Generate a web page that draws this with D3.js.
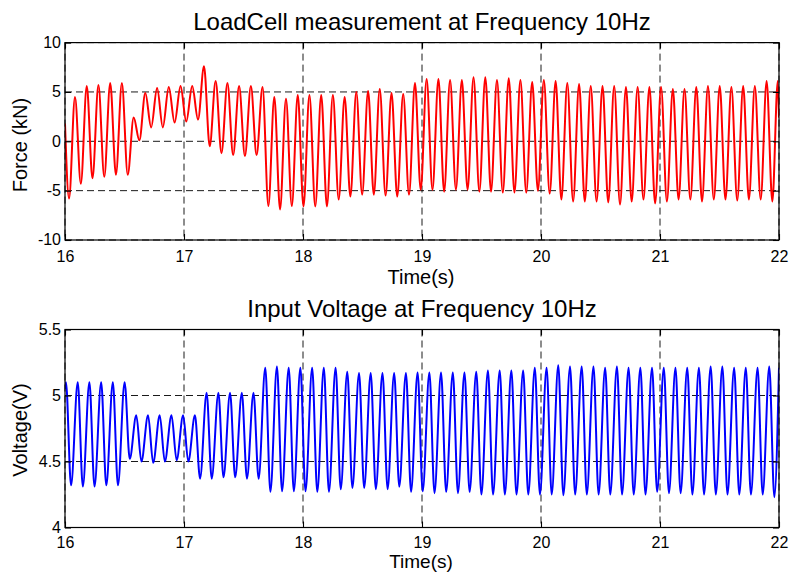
<!DOCTYPE html>
<html><head><meta charset="utf-8">
<script src="https://cdn.jsdelivr.net/npm/d3@7"></script>
<style>
body{margin:0;background:#fff}
svg{display:block}
text{font-family:"Liberation Sans",Arial,Helvetica,sans-serif;fill:#000}
</style>
</head><body>
<svg id="chart" width="790" height="572"></svg>
<script>
// ---------- data ----------
const timeTicks = [16, 17, 18, 19, 20, 21, 22];
const forceTicks = [-10, -5, 0, 5, 10];
const voltTicks = [4, 4.5, 5, 5.5];

const forceTitle = "LoadCell measurement at Frequency 10Hz";
const voltTitle = "Input Voltage at Frequency 10Hz";

// LoadCell force (kN): trough and peak of every cycle
const forceTroughTimes = [16.034,16.133,16.231,16.330,16.428,16.527,16.625,16.724,16.822,16.921,17.019,17.118,17.216,17.315,17.413,17.512,17.610,17.709,17.807,17.906,18.004,18.103,18.201,18.300,18.398,18.497,18.595,18.694,18.792,18.891,18.989,19.088,19.186,19.285,19.383,19.482,19.580,19.679,19.777,19.876,19.974,20.073,20.171,20.270,20.368,20.467,20.565,20.664,20.762,20.861,20.959,21.058,21.156,21.255,21.353,21.452,21.550,21.649,21.747,21.846,21.944];
const forceTroughs = [-5.8,-4.3,-3.75,-3.6,-3.4,-3.4,0.1,1.4,1.4,1.9,2.0,2.2,-0.5,-1.2,-1.4,-1.5,-1.4,-6.55,-6.9,-6.55,-6.6,-6.6,-6.6,-5.9,-5.6,-5.4,-5.4,-5.5,-5.6,-5.4,-4.9,-4.9,-5.1,-4.9,-4.9,-5.1,-5.1,-5.2,-5.2,-5.2,-5.0,-5.3,-5.9,-6.1,-6.1,-6.1,-6.2,-6.4,-6.1,-5.9,-6.3,-6.1,-5.9,-5.9,-6.1,-5.9,-5.9,-6.0,-5.9,-5.9,-6.1];
const forcePeakTimes = [16.084,16.183,16.281,16.380,16.478,16.577,16.675,16.774,16.872,16.971,17.069,17.168,17.266,17.365,17.463,17.562,17.660,17.759,17.857,17.956,18.054,18.153,18.251,18.350,18.448,18.547,18.645,18.744,18.842,18.941,19.039,19.138,19.236,19.335,19.433,19.532,19.630,19.729,19.827,19.926,20.024,20.123,20.221,20.320,20.418,20.517,20.615,20.714,20.812,20.911,21.009,21.108,21.206,21.305,21.403,21.502,21.600,21.699,21.797,21.896,21.990];
const forcePeaks = [4.5,5.6,5.7,5.9,5.9,2.4,4.9,5.4,5.5,5.6,5.6,7.6,6.1,5.9,5.6,5.6,5.5,4.5,4.3,4.7,4.7,4.7,4.7,4.5,5.0,5.1,5.3,4.9,4.8,5.9,6.3,6.3,6.2,6.2,6.5,6.5,6.2,6.4,6.2,6.0,6.2,6.1,5.9,5.8,5.6,5.6,5.6,5.5,5.5,5.5,5.5,5.3,5.3,5.5,5.6,5.6,5.5,5.6,5.6,6.1,6.1];
const forceEnds = [[16.0, 1.8], [22.0, 2.4]];

// Input voltage (V): peak and trough of every cycle
const voltPeakTimes = [16.008,16.107,16.205,16.304,16.402,16.501,16.599,16.698,16.796,16.895,16.993,17.092,17.190,17.289,17.387,17.486,17.584,17.683,17.781,17.880,17.978,18.077,18.175,18.274,18.372,18.471,18.569,18.668,18.766,18.865,18.963,19.062,19.160,19.259,19.357,19.456,19.554,19.653,19.751,19.850,19.948,20.047,20.145,20.244,20.342,20.441,20.539,20.638,20.736,20.835,20.933,21.032,21.130,21.229,21.327,21.426,21.524,21.623,21.721,21.820,21.918];
const voltPeaks = [5.10,5.10,5.10,5.10,5.10,5.10,4.85,4.85,4.85,4.85,4.85,4.85,5.02,5.02,5.02,5.02,5.02,5.21,5.22,5.21,5.21,5.21,5.21,5.21,5.18,5.17,5.17,5.17,5.17,5.17,5.175,5.175,5.175,5.175,5.175,5.18,5.19,5.19,5.19,5.19,5.21,5.21,5.23,5.22,5.22,5.22,5.21,5.22,5.21,5.21,5.21,5.21,5.21,5.21,5.21,5.22,5.22,5.21,5.21,5.21,5.22];
const voltTroughTimes = [16.051,16.150,16.248,16.347,16.445,16.544,16.642,16.741,16.839,16.938,17.036,17.135,17.233,17.332,17.430,17.529,17.627,17.726,17.824,17.923,18.021,18.120,18.218,18.317,18.415,18.514,18.612,18.711,18.809,18.908,19.006,19.105,19.203,19.302,19.400,19.499,19.597,19.696,19.794,19.893,19.991,20.090,20.188,20.287,20.385,20.484,20.582,20.681,20.779,20.878,20.976,21.075,21.173,21.272,21.370,21.469,21.567,21.666,21.764,21.863,21.961];
const voltTroughs = [4.32,4.31,4.31,4.32,4.32,4.52,4.50,4.49,4.50,4.51,4.50,4.37,4.37,4.38,4.38,4.37,4.37,4.27,4.275,4.275,4.275,4.27,4.27,4.29,4.30,4.30,4.29,4.29,4.31,4.27,4.275,4.26,4.27,4.26,4.27,4.25,4.25,4.25,4.25,4.25,4.25,4.25,4.245,4.25,4.25,4.25,4.25,4.25,4.25,4.25,4.27,4.26,4.26,4.25,4.25,4.25,4.25,4.25,4.25,4.25,4.23];
const voltEnds = [[16.0, 5.05], [22.0, 5.21]];

// ---------- drawing ----------
const svg = d3.select("#chart");
const X0 = 65, X1 = 779;
const plainNum = d => String(d);

function series(tT, tV, pT, pV, ends) {
  const pts = [ends[0]];
  tT.forEach((t, i) => pts.push([t, tV[i]]));
  pT.forEach((t, i) => pts.push([t, pV[i]]));
  pts.push(ends[1]);
  return pts.sort((a, b) => a[0] - b[0]);
}

function panel(cfg, idx) {
  const x = d3.scaleLinear().domain([16, 22]).range([X0, X1]);
  const y = d3.scaleLinear().domain(cfg.domain).range([cfg.bottom, cfg.top]);
  const g = svg.append("g");

  // grid
  g.append("g").selectAll("line").data(timeTicks).join("line")
    .attr("x1", d => x(d)).attr("x2", d => x(d))
    .attr("y1", cfg.top).attr("y2", cfg.bottom)
    .attr("stroke", "#000").attr("stroke-width", 0.9).attr("stroke-dasharray", "7,4");
  g.append("g").selectAll("line").data(cfg.ticks).join("line")
    .attr("x1", X0).attr("x2", X1)
    .attr("y1", d => y(d)).attr("y2", d => y(d))
    .attr("stroke", "#000").attr("stroke-width", 0.9).attr("stroke-dasharray", "7,4");

  // data line
  const cid = "clip" + idx;
  svg.append("clipPath").attr("id", cid).append("rect")
    .attr("x", X0).attr("y", cfg.top).attr("width", X1 - X0).attr("height", cfg.bottom - cfg.top);
  const line = d3.line().x(d => x(d[0])).y(d => y(d[1])).curve(d3.curveMonotoneX);
  g.append("path").datum(cfg.data).attr("clip-path", `url(#${cid})`)
    .attr("d", line).attr("fill", "none").attr("stroke", cfg.color)
    .attr("stroke-width", 2).attr("stroke-linejoin", "round");

  // box
  g.append("rect").attr("x", X0).attr("y", cfg.top)
    .attr("width", X1 - X0).attr("height", cfg.bottom - cfg.top)
    .attr("fill", "none").attr("stroke", "#000").attr("stroke-width", 1.2);

  // axes (inward ticks on all sides)
  const tl = 6;
  g.append("g").attr("transform", `translate(0,${cfg.bottom})`)
    .call(d3.axisBottom(x).tickValues(timeTicks).tickSize(-tl).tickPadding(cfg.xPad).tickFormat(plainNum))
    .call(s => { s.select(".domain").remove(); s.selectAll("text").attr("font-size", 16).attr("font-family", null); s.selectAll("line").attr("stroke-width", 1.1); });
  g.append("g").attr("transform", `translate(0,${cfg.top})`)
    .call(d3.axisTop(x).tickValues(timeTicks).tickSize(-tl).tickFormat(""))
    .call(s => { s.select(".domain").remove(); s.selectAll("line").attr("stroke-width", 1.1); });
  g.append("g").attr("transform", `translate(${X0},0)`)
    .call(d3.axisLeft(y).tickValues(cfg.ticks).tickSize(-tl).tickPadding(4).tickFormat(plainNum))
    .call(s => { s.select(".domain").remove(); s.selectAll("text").attr("font-size", 16).attr("font-family", null).attr("dy", "0.3em"); s.selectAll("line").attr("stroke-width", 1.1); });
  g.append("g").attr("transform", `translate(${X1},0)`)
    .call(d3.axisRight(y).tickValues(cfg.ticks).tickSize(-tl).tickFormat(""))
    .call(s => { s.select(".domain").remove(); s.selectAll("line").attr("stroke-width", 1.1); });

  // texts
  g.append("text").attr("x", (X0 + X1) / 2).attr("y", cfg.titleY)
    .attr("text-anchor", "middle").attr("font-size", 24).text(cfg.title);
  g.append("text").attr("x", (X0 + X1) / 2 - 1).attr("y", cfg.xlabelY)
    .attr("text-anchor", "middle").attr("font-size", cfg.xlabelSize).text("Time(s)");
  g.append("text").attr("transform", `translate(27,${cfg.ylabelY}) rotate(-90)`)
    .attr("text-anchor", "middle").attr("font-size", 20).text(cfg.ylabel);
}

panel({
  top: 42.6, bottom: 240, domain: [-10, 10], ticks: forceTicks, xPad: 11,
  data: series(forceTroughTimes, forceTroughs, forcePeakTimes, forcePeaks, forceEnds),
  color: "#ff0000", title: forceTitle, titleY: 30, xlabelY: 284, xlabelSize: 20,
  ylabel: "Force (kN)", ylabelY: 145
}, 0);
panel({
  top: 329.5, bottom: 527.5, domain: [4, 5.5], ticks: voltTicks, xPad: 9,
  data: series(voltTroughTimes, voltTroughs, voltPeakTimes, voltPeaks, voltEnds),
  color: "#0000ff", title: voltTitle, titleY: 316.5, xlabelY: 568, xlabelSize: 19,
  ylabel: "Voltage(V)", ylabelY: 430
}, 1);
</script>
</body></html>
